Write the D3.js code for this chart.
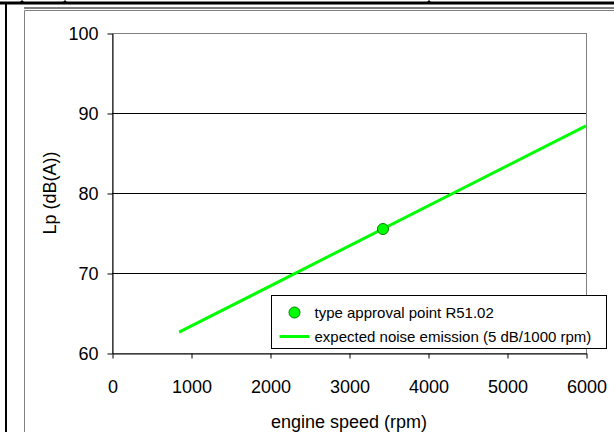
<!DOCTYPE html>
<html>
<head>
<meta charset="utf-8">
<script src="https://cdn.jsdelivr.net/npm/d3@7"></script>
<style>
  body { margin: 0; padding: 0; background: #fff; }
  svg { display: block; font-family: Arial, "Liberation Sans", sans-serif; }
</style>
</head>
<body>
<svg id="chart" width="614" height="432"></svg>
<script>
// values
const xTicks = [0, 1000, 2000, 3000, 4000, 5000, 6000];
const yTicks = [60, 70, 80, 90, 100];
const lineRpm = [850, 6000];
const lineDb = [62.6, 88.4];
const pointRpm = [3430];
const pointDb = [75.5];
const legendLabels = ["type approval point R51.02", "expected noise emission (5 dB/1000 rpm)"];

const svg = d3.select("#chart");
const green = "#00ff00";

// page frame bits around the chart
svg.append("line").attr("x1", 0).attr("x2", 614).attr("y1", 3).attr("y2", 3)
    .style("stroke", "#000").style("stroke-width", 3);
svg.append("line").attr("x1", 24).attr("x2", 614).attr("y1", 8).attr("y2", 8)
    .style("stroke", "#000").style("stroke-width", 1);
svg.append("line").attr("x1", 6).attr("x2", 6).attr("y1", 2).attr("y2", 432)
    .style("stroke", "#000").style("stroke-width", 2);
svg.append("path").attr("d", "M24.5,432V10.5H614")
    .style("stroke", "#808080").style("fill", "none");
// little ruler marks on the top rule
[22, 65, 429].forEach(m => {
    svg.append("path")
        .attr("d", `M${m - 3},3L${m},0L${m + 3},3Z`)
        .style("fill", "#000");
});

let x = d3.scaleLinear().domain([0, 6000]).range([112, 586]);
let y = d3.scaleLinear().domain([60, 100]).range([353, 33]);

// plot area border (gray top/right)
svg.append("rect")
    .attr("x", x(0) + 0.5).attr("y", y(100) + 0.5)
    .attr("width", x(6000) - x(0)).attr("height", y(60) - y(100))
    .style("fill", "none").style("stroke", "#808080");

// gridlines
svg.selectAll(".grid")
    .data(yTicks.filter(d => d > 60 && d < 100))
    .enter()
    .append("line")
    .attr("class", "grid")
    .attr("x1", x(0)).attr("x2", x(6000))
    .attr("y1", d => Math.round(y(d)) + 0.5).attr("y2", d => Math.round(y(d)) + 0.5)
    .style("stroke", "#000");

// axes
let xAxis = svg.append("g")
    .attr("transform", `translate(0.5,${y(60) + 0.5})`)
    .call(d3.axisBottom(x).tickValues(xTicks).tickFormat(d3.format("d"))
        .tickSize(5).tickSizeOuter(0).tickPadding(22));
let yAxis = svg.append("g")
    .attr("transform", `translate(${x(0) + 0.5},0.5)`)
    .call(d3.axisLeft(y).tickValues(yTicks).tickFormat(d3.format("d"))
        .tickSize(5).tickSizeOuter(0).tickPadding(9));

[xAxis, yAxis].forEach(g => {
    g.select(".domain").style("stroke", "#000");
    g.selectAll(".tick line").style("stroke", "#000");
    g.selectAll("text")
        .style("font-size", "18px")
        .style("fill", "#000")
        .style("font-family", "Arial, 'Liberation Sans', sans-serif");
});

// axis titles
svg.append("text")
    .attr("x", (x(0) + x(6000)) / 2).attr("y", 428)
    .attr("text-anchor", "middle")
    .style("font-size", "18px")
    .text("engine speed (rpm)");
svg.append("text")
    .attr("transform", `translate(56,${(y(60) + y(100)) / 2}) rotate(-90)`)
    .attr("text-anchor", "middle")
    .style("font-size", "18px")
    .text("Lp (dB(A))");

// expected noise line
let lineData = lineRpm.map((r, i) => ({ r: r, db: lineDb[i] }));
let line = d3.line()
    .x(d => x(d.r))
    .y(d => y(d.db));
svg.append("path")
    .attr("d", line(lineData))
    .style("stroke", green)
    .style("stroke-width", 3)
    .style("fill", "none");

// type approval point
svg.selectAll(".pt")
    .data(pointRpm.map((r, i) => ({ r: r, db: pointDb[i] })))
    .enter()
    .append("circle")
    .attr("class", "pt")
    .attr("cx", d => x(d.r))
    .attr("cy", d => y(d.db))
    .attr("r", 5.5)
    .style("fill", green)
    .style("stroke", "#008000")
    .style("stroke-width", 1);

// legend
let lg = svg.append("g").attr("transform", "translate(271.5,295.5)");
lg.append("rect")
    .attr("width", 335).attr("height", 53)
    .style("fill", "#fff").style("stroke", "#000");
lg.append("circle")
    .attr("cx", 23).attr("cy", 17).attr("r", 5.5)
    .style("fill", green).style("stroke", "#008000");
lg.append("line")
    .attr("x1", 8).attr("x2", 38).attr("y1", 41).attr("y2", 41)
    .style("stroke", green).style("stroke-width", 3);
lg.selectAll(".lt")
    .data(legendLabels)
    .enter()
    .append("text")
    .attr("class", "lt")
    .attr("x", 43)
    .attr("y", (d, i) => 22 + i * 24)
    .style("font-size", "15px")
    .text(d => d);
</script>
</body>
</html>
